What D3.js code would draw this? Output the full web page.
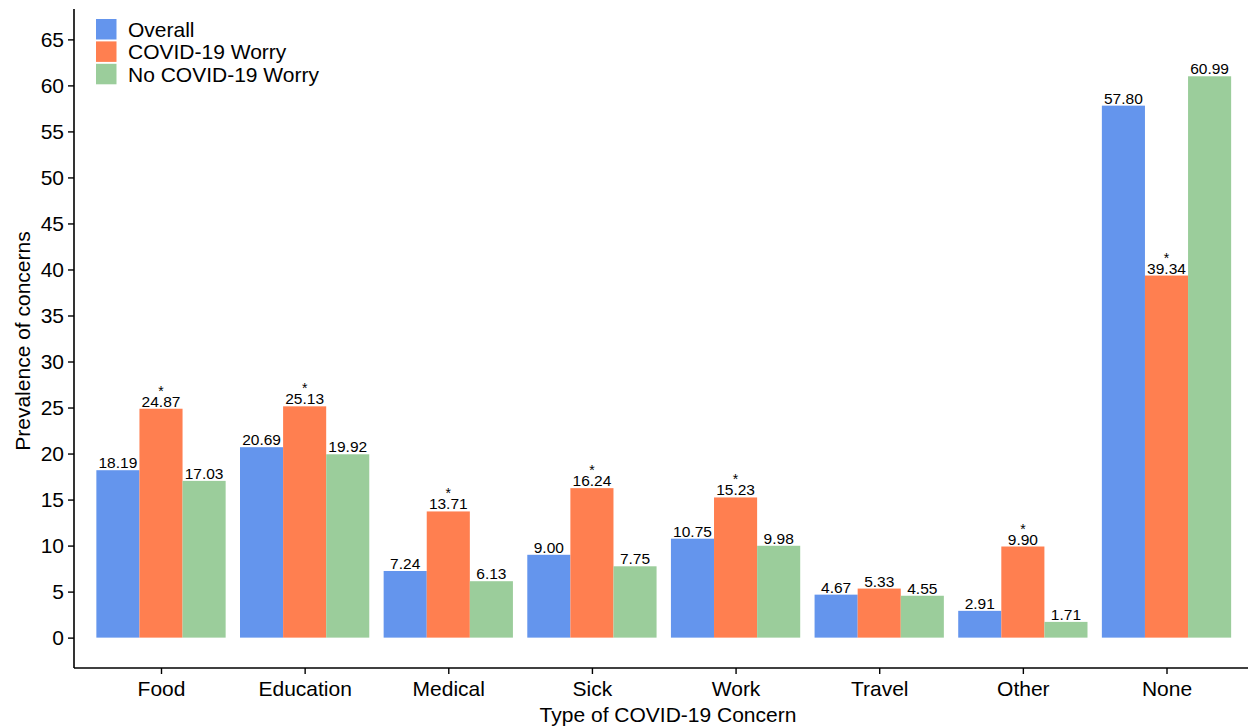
<!DOCTYPE html>
<html><head><meta charset="utf-8">
<script src="https://cdn.jsdelivr.net/npm/d3@7"></script>
<style>
body{margin:0;background:#fff;}
svg text{font-family:"Liberation Sans",Arial,Helvetica,sans-serif;}
</style></head>
<body><svg id="c" width="1248" height="727"></svg>
<script>
const categories = ["Food","Education","Medical","Sick","Work","Travel","Other","None"];
const seriesNames = ["Overall","COVID-19 Worry","No COVID-19 Worry"];
const overall = [18.19,20.69,7.24,9.00,10.75,4.67,2.91,57.80];
const covidWorry = [24.87,25.13,13.71,16.24,15.23,5.33,9.90,39.34];
const noCovidWorry = [17.03,19.92,6.13,7.75,9.98,4.55,1.71,60.99];
const significant = [true,true,true,true,true,false,true,true]; // asterisk on COVID-19 Worry
const yTicks = [0,5,10,15,20,25,30,35,40,45,50,55,60,65];
const colors = ["#6495ED","#FF7F50","#9BCD9B"];

(function(){
const series = [overall, covidWorry, noCovidWorry];
const svg = d3.select("#c");
const pL = 74, pR = 1248, pT = 9, pB = 668;
const FS = 21, LFS = 15.5;

const y = d3.scaleLinear().domain([-3.3, 68.3]).range([pB, pT]);
const xc = d3.scaleLinear().domain([1, categories.length]).range([161, 1166.5]);
const unit = xc(2) - xc(1);
const barW = unit * 0.3;

const g = svg.append("g");
series.forEach((vals, s) => {
  g.selectAll(null).data(vals).enter().append("rect")
    .attr("x", (d,i) => xc(i+1) - 1.5*barW + s*barW)
    .attr("y", d => y(d))
    .attr("width", barW)
    .attr("height", d => y(0) - y(d))
    .attr("fill", colors[s]);
  const t = g.selectAll(null).data(vals.map((v,i)=>({v,i}))).enter().append("text")
    .attr("text-anchor","middle")
    .attr("fill","#000");
  t.filter(d => s === 1 && significant[d.i]).append("tspan")
    .attr("x", d => xc(d.i+1) - barW + s*barW)
    .attr("y", d => y(d.v) - 13)
    .attr("font-size", 14)
    .text("*");
  t.append("tspan")
    .attr("x", d => xc(d.i+1) - barW + s*barW)
    .attr("y", d => y(d.v) - 2)
    .attr("font-size", LFS)
    .text(d => d.v.toFixed(2));
});

// y axis
const yAxis = d3.axisLeft(y).tickValues(yTicks).tickSize(6).tickPadding(4).tickFormat(d3.format("d"));
const ya = svg.append("g").attr("transform",`translate(${pL},0)`).call(yAxis);
ya.select(".domain").attr("d", `M0,${pT}V${pB}`).attr("stroke","#000").attr("stroke-width",1.6);
ya.selectAll(".tick line").attr("stroke","#000").attr("stroke-width",1.4);
ya.selectAll(".tick text").attr("font-size",FS).attr("fill","#000").attr("font-family","Liberation Sans, Arial, sans-serif");

// x axis
const xAxis = d3.axisBottom(xc).tickValues(d3.range(1, categories.length+1)).tickSize(6).tickPadding(7)
  .tickFormat(d => categories[d-1]);
const xa = svg.append("g").attr("transform",`translate(0,${pB})`).call(xAxis);
xa.select(".domain").attr("d", `M${pL},0H${pR}`).attr("stroke","#000").attr("stroke-width",1.6);
xa.selectAll(".tick line").attr("stroke","#000").attr("stroke-width",1.4);
xa.selectAll(".tick text").attr("font-size",FS).attr("fill","#000").attr("font-family","Liberation Sans, Arial, sans-serif");

// axis titles
svg.append("text").attr("x", 668).attr("y", 722).attr("text-anchor","middle")
  .attr("font-size",FS).attr("fill","#000").text("Type of COVID-19 Concern");
svg.append("text").attr("transform",`translate(30,341) rotate(-90)`).attr("text-anchor","middle")
  .attr("font-size",FS).attr("fill","#000").text("Prevalence of concerns");

// legend
const lg = svg.append("g").attr("transform","translate(96,19)");
seriesNames.forEach((n,i) => {
  lg.append("rect").attr("x",0).attr("y",i*22.4).attr("width",20.5).attr("height",20.5).attr("fill",colors[i]);
  lg.append("text").attr("x",32).attr("y",i*22.4+18).attr("font-size",FS).attr("fill","#000").text(n);
});
})();
</script></body></html>
